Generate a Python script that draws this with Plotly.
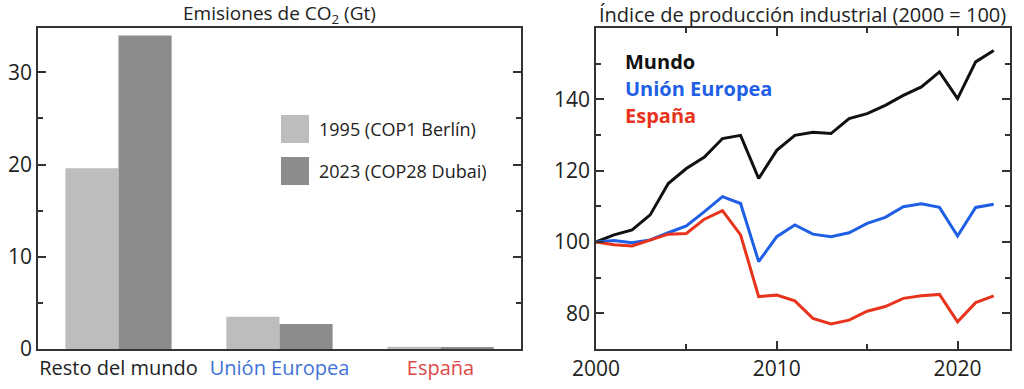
import plotly.graph_objects as go

# ---------------- data ----------------
regions = ["Resto del mundo", "Unión Europea", "España"]
region_colors = ["#222222", "#3f72d6", "#e04848"]
co2_1995 = [19.6, 3.5, 0.25]
co2_2023 = [34.0, 2.7, 0.22]
series_names = ["1995 (COP1 Berlín)", "2023 (COP28 Dubai)"]

years = list(range(2000, 2023))
mundo = [100, 102.0, 103.4, 107.6, 116.4, 120.6, 123.8, 129.0, 129.9, 117.8, 125.7,
         129.9, 130.8, 130.4, 134.6, 136.0, 138.3, 141.1, 143.5, 147.7, 140.2, 150.5, 153.7]
ue = [100, 100.4, 99.8, 100.6, 102.6, 104.5, 108.5, 112.7, 110.8, 94.5, 101.5,
      104.8, 102.2, 101.5, 102.6, 105.2, 106.9, 109.9, 110.7, 109.7, 101.7, 109.7, 110.6]
espana = [100, 99.2, 98.9, 100.6, 102.2, 102.4, 106.4, 108.8, 102.0, 84.7, 85.1,
          83.5, 78.6, 77.0, 78.1, 80.6, 81.9, 84.2, 84.9, 85.3, 77.6, 83.0, 84.9]
line_names = ["Mundo", "Unión Europea", "España"]
line_colors = ["#111111", "#1f5fe6", "#e8341c"]

bar_colors = ["#bdbdbd", "#8c8c8c"]
FONT = "Open Sans"
AX = "#333333"

fig = go.Figure()

fig.add_trace(go.Bar(x=regions, y=co2_1995, name=series_names[0], marker_color=bar_colors[0],
                     marker_line_width=0, xaxis="x", yaxis="y", showlegend=False))
fig.add_trace(go.Bar(x=regions, y=co2_2023, name=series_names[1], marker_color=bar_colors[1],
                     marker_line_width=0, xaxis="x", yaxis="y", showlegend=False))

for name, vals, col in zip(line_names, [mundo, ue, espana], line_colors):
    fig.add_trace(go.Scatter(x=years, y=vals, mode="lines", name=name,
                             line=dict(color=col, width=3), xaxis="x2", yaxis="y2",
                             showlegend=False))

ticktext = [f'<span style="color:{c}">{r}</span>' for r, c in zip(regions, region_colors)]

common_axis = dict(showline=True, linecolor=AX, linewidth=1.5, mirror="ticks",
                   showgrid=False, zeroline=False, ticks="inside", tickcolor=AX,
                   tickwidth=1.5, ticklen=8, tickfont=dict(family=FONT, size=21, color="#222"))

fig.update_layout(
    width=1024, height=389,
    margin=dict(l=38, r=14, t=28, b=40, autoexpand=False),
    paper_bgcolor="white", plot_bgcolor="white",
    font=dict(family=FONT, size=18, color="#222"),
    barmode="group", bargap=0.34, bargroupgap=0,
    xaxis=dict(domain=[0, 0.4969], showline=True, linecolor=AX, linewidth=1.5, mirror=True,
               ticks="", tickvals=regions, ticktext=ticktext, range=[-0.5, 2.5],
               ticklabelstandoff=0, automargin=False,
               tickfont=dict(family=FONT, size=20), showgrid=False, zeroline=False),
    yaxis=dict(range=[0, 34.8], tickvals=[0, 10, 20, 30], automargin=False,
               minor=dict(ticks="inside", ticklen=5, tickwidth=1.5, tickcolor=AX, dtick=5),
               **common_axis),
    xaxis2=dict(domain=[0.574, 1], range=[2000, 2022.9], tickvals=[2000, 2010, 2020],
                minor=dict(ticks="inside", ticklen=5, tickwidth=1.5, tickcolor=AX, dtick=5),
                ticklabelstandoff=0, automargin=False, anchor="y2", **common_axis),
    yaxis2=dict(range=[70, 160], tickvals=[80, 100, 120, 140], anchor="x2", automargin=False,
                minor=dict(ticks="inside", ticklen=5, tickwidth=1.5, tickcolor=AX, dtick=10),
                **common_axis),
)

# titles
fig.add_annotation(text="Emisiones de CO<sub>2</sub> (Gt)", xref="paper", yref="paper",
                   x=0.2484, y=1.0, xanchor="center", yanchor="bottom", yshift=-2,
                   showarrow=False, font=dict(family=FONT, size=19, color="#222"))
fig.add_annotation(text="Índice de producción industrial (2000 = 100)", xref="paper", yref="paper",
                   x=0.787, y=1.0, xanchor="center", yanchor="bottom", yshift=-2,
                   showarrow=False, font=dict(family=FONT, size=20, color="#222"))

# left legend (drawn manually, large swatches)
for i, (nm, col) in enumerate(zip(series_names, bar_colors)):
    ytop = 115 + i * 42
    fig.add_shape(type="rect", xref="x domain", yref="paper",
                  x0=(281 - 38) / 483, x1=(309 - 38) / 483,
                  y0=(349 - (ytop + 28)) / 321, y1=(349 - ytop) / 321,
                  fillcolor=col, line_width=0)
    fig.add_annotation(text=nm, xref="x domain", yref="paper",
                       x=(317 - 38) / 483, y=(349 - (ytop + 14)) / 321,
                       xanchor="left", yanchor="middle", showarrow=False,
                       font=dict(family=FONT, size=18, color="#222"))

# right legend
for i, (nm, col) in enumerate(zip(line_names, line_colors)):
    yc = 61 + i * 27
    fig.add_annotation(text=f"<b>{nm}</b>", xref="x2 domain", yref="paper",
                       x=(623 - 596) / 414, y=(349 - yc) / 321,
                       xanchor="left", yanchor="middle", showarrow=False,
                       font=dict(family=FONT, size=20, color=col))

fig.write_html("out.html", config={"displayModeBar": False},
               post_script="document.body.style.margin='0';")
